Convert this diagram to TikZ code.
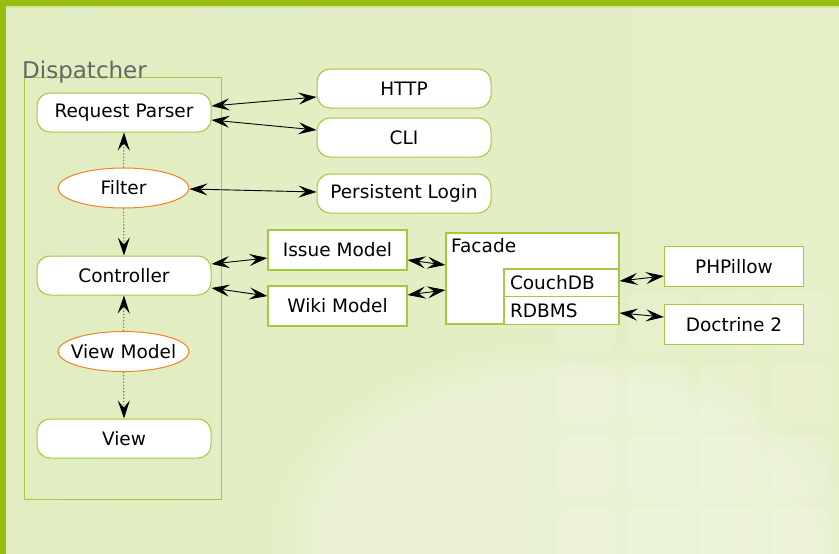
\documentclass[tikz,border=0pt]{standalone}
\usepackage{fontspec}
\setmainfont{DejaVu Sans}
\usetikzlibrary{shapes.geometric,arrows.meta,fadings}
\definecolor{lime}{HTML}{98BF10}
\definecolor{boxline}{HTML}{A4C93C}
\definecolor{bgleft}{HTML}{E1EDC1}
\definecolor{bgright}{HTML}{E5EFC8}
\definecolor{ovalline}{HTML}{F08224}
\definecolor{caption}{HTML}{666666}
\tikzset{tip/.tip={Stealth[length=18pt,width=12pt,inset=7pt]}}
\newcommand{\bothdraw}[2]{\draw[line width=0.9pt, tip-tip] (#1) -- (#2)}
\newcommand{\dotdraw}[2]{\draw[black!55, dotted, line width=1.2pt, -{Stealth[black,length=18pt,width=12pt,inset=7pt]}] (#1) -- (#2)}

\begin{document}
\begin{tikzpicture}[x=1pt, y=-1pt, font=\fontsize{18.5}{22}\selectfont,
    pill/.style={draw=boxline, line width=1pt, fill=white, rounded corners=13pt,
        minimum width=174pt, minimum height=39pt, inner sep=0pt},
    oval/.style={ellipse, draw=ovalline, line width=1pt, fill=white,
        minimum width=131pt, minimum height=40pt, inner sep=0pt},
    plainbox/.style={draw=boxline, line width=1.2pt, fill=white,
        minimum width=139pt, minimum height=40pt, inner sep=0pt},
    store/.style={draw=boxline, line width=1.2pt, fill=white, minimum width=115pt,
        minimum height=28pt, inner xsep=6pt, inner ysep=0pt, text width=103pt, align=left}]
            \useasboundingbox (0,0) rectangle (839,554);

            % backdrop
            \shade[left color=bgleft, right color=bgright] (0,0) rectangle (839,554);
            \fill[white, opacity=0.25, path fading=circle with fuzzy edge 20 percent] (560,540) ellipse (300 and 200);
            \foreach \col in {557,628,700,771}
                \foreach \row in {291,363,435,507}
                    \draw[white, opacity=0.25, fill=white, fill opacity=0.12, rounded corners=14pt] (\col,\row) rectangle ++(59,60);
            \fill[lime] (0,0) rectangle (839,6);
            \fill[white!60!lime] (6,6) rectangle (839,7.5);
            \fill[lime] (0,0) rectangle (6,554);

            % dispatcher
            \node[draw=boxline, line width=1pt, minimum width=197pt, minimum height=422pt, inner sep=0pt] (dispatcher) at (122.5,288) {};
            \node[anchor=base west, inner sep=0pt, text=caption, font=\fontsize{23}{27}\selectfont] (dispname) at (22,78) {Dispatcher};

            \node[pill] (parser) at (124,112.5) {Request Parser};
            \node[oval] (filter) at (123.5,188) {\makebox[60pt]{Filter}};
            \node[pill] (controller) at (124,275.5) {Controller};
            \node[oval] (viewmodel) at (123.5,351.5) {\makebox[60pt]{View Model}};
            \node[pill] (view) at (124,438.5) {View};

            \node[pill] (http) at (404,88.5) {HTTP};
            \node[pill] (cli) at (404,137.5) {CLI};
            \node[pill] (login) at (404,193.5) {Persistent Login};

            \node[plainbox] (issue) at (337.5,250) {Issue Model};
            \node[plainbox] (wiki) at (337.5,306) {Wiki Model};

            \node[draw=boxline, line width=1.2pt, fill=white, minimum width=173pt, minimum height=91pt, inner sep=0pt] (facade) at (532.5,278.5) {};
            \node[anchor=north west, inner sep=0pt] (facadename) at (451,238) {Facade};
            \node[store] (couch) at (561.5,283) {CouchDB};
            \node[store] (rdbms) at (561.5,310.5) {RDBMS};

            \node[plainbox] (phpillow) at (734,266.5) {PHPillow};
            \node[plainbox] (doctrine) at (734,324.5) {Doctrine 2};

            \dotdraw{filter.north}{parser.south};
            \dotdraw{filter.south}{controller.north};
            \dotdraw{viewmodel.north}{controller.south};
            \dotdraw{viewmodel.south}{view.north};

            \bothdraw{[yshift=6.5pt]parser.east}{[yshift=-8.5pt]http.west};
            \bothdraw{[yshift=-7.5pt]parser.east}{[yshift=7.5pt]cli.west};
            \bothdraw{[yshift=-1pt]filter.east}{[yshift=1.5pt]login.west};
            \bothdraw{[yshift=11.5pt]controller.east}{[yshift=-8pt]issue.west};
            \bothdraw{[yshift=-12.5pt]controller.east}{[yshift=10pt]wiki.west};
            \bothdraw{[yshift=-10pt]issue.east}{[yshift=13.5pt]facade.west};
            \bothdraw{[yshift=11pt]wiki.east}{[yshift=-11.5pt]facade.west};
            \bothdraw{[yshift=2pt]couch.east}{[yshift=-9.5pt]phpillow.west};
            \bothdraw{[yshift=-2.5pt]rdbms.east}{[yshift=7.5pt]doctrine.west};
        \end{tikzpicture}
\end{document}
